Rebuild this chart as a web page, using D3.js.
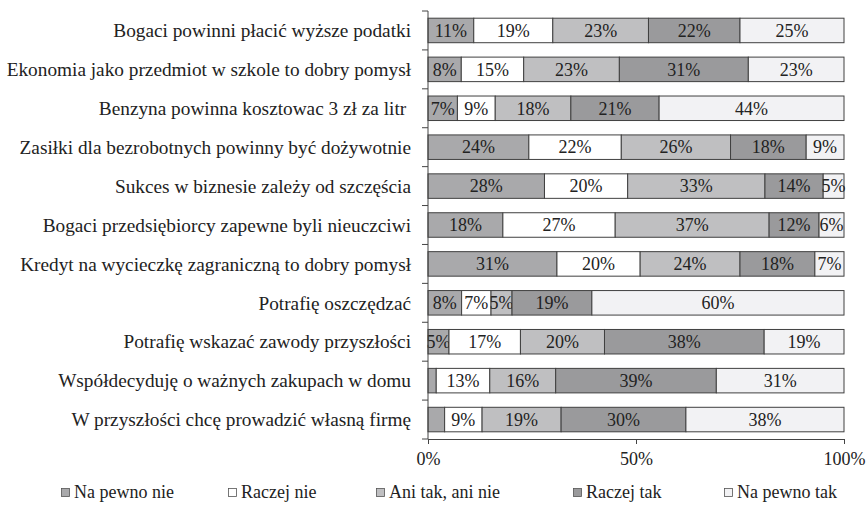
<!DOCTYPE html>
<html>
<head>
<meta charset="utf-8">
<script src="https://cdn.jsdelivr.net/npm/d3@7"></script>
<style>
  body { margin: 0; background: #fff; }
  text { font-family: "Liberation Serif", "Times New Roman", serif; fill: #222; }
</style>
</head>
<body>
<div id="chart"></div>
<script>
var w = 868;
var h = 505;

var categories = [
   "Bogaci powinni płacić wyższe podatki",
   "Ekonomia jako przedmiot w szkole to dobry pomysł",
   "Benzyna powinna kosztowac 3 zł za litr ",
   "Zasiłki dla bezrobotnych powinny być dożywotnie",
   "Sukces w biznesie zależy od szczęścia",
   "Bogaci przedsiębiorcy zapewne byli nieuczciwi",
   "Kredyt na wycieczkę zagraniczną to dobry pomysł",
   "Potrafię oszczędzać",
   "Potrafię wskazać zawody przyszłości",
   "Współdecyduję o ważnych zakupach w domu",
   "W przyszłości chcę prowadzić własną firmę"
];

var seriesNames = ["Na pewno nie", "Raczej nie", "Ani tak, ani nie", "Raczej tak", "Na pewno tak"];

// one array per answer, in category order
var naPewnoNie = [11, 8, 7, 24, 28, 18, 31, 8, 5, 2, 4];
var raczejNie  = [19, 15, 9, 22, 20, 27, 20, 7, 17, 13, 9];
var aniTakAni  = [23, 23, 18, 26, 33, 37, 24, 5, 20, 16, 19];
var raczejTak  = [22, 31, 21, 18, 14, 12, 18, 19, 38, 39, 30];
var naPewnoTak = [25, 23, 44, 9, 5, 6, 7, 60, 19, 31, 38];

// labels left off in the original for the thinnest first segments
var hiddenLabels = [[0, 9], [0, 10]];

var xTicks = [0, 0.5, 1];

var colors = ["#a9a9ab", "#ffffff", "#bfbfc1", "#9a9a9c", "#f2f2f4"];

var margin = {top: 11, left: 428, right: 24, bottom: 66};

var rows = categories.map(function(c, i) {
   return {
      cat: c,
      s0: naPewnoNie[i], s1: raczejNie[i], s2: aniTakAni[i],
      s3: raczejTak[i], s4: naPewnoTak[i]
   };
});
var keys = ["s0", "s1", "s2", "s3", "s4"];

var stacked = d3.stack().keys(keys).offset(d3.stackOffsetExpand)(rows);

var x = d3.scaleLinear().domain([0, 1]).range([margin.left, w - margin.right]);
var y = d3.scaleBand().domain(categories)
          .range([margin.top, h - margin.bottom])
          .paddingInner(0.37).paddingOuter(0.185);

var svg = d3.select("#chart").append("svg")
            .attr("width", w).attr("height", h);

var groups = svg.selectAll("g.series")
               .data(stacked)
               .enter().append("g")
               .attr("class", "series");

groups.selectAll("rect")
      .data(function(d) { return d.map(function(p) { return {p: p, key: d.key}; }); })
      .enter().append("rect")
      .attr("x", function(d) { return x(d.p[0]); })
      .attr("y", function(d) { return y(d.p.data.cat); })
      .attr("width", function(d) { return x(d.p[1]) - x(d.p[0]); })
      .attr("height", y.bandwidth())
      .attr("fill", function(d) { return colors[keys.indexOf(d.key)]; })
      .attr("stroke", "#404040")
      .attr("stroke-width", 1);

groups.each(function(d, si) {
   d3.select(this).selectAll("text")
     .data(d.map(function(p, ci) { return {p: p, ci: ci}; }).filter(function(e) {
        return !hiddenLabels.some(function(hl) { return hl[0] == si && hl[1] == e.ci; });
     }))
     .enter().append("text")
     .attr("x", function(e) { return (x(e.p[0]) + x(e.p[1])) / 2; })
     .attr("y", function(e) { return y(e.p.data.cat) + y.bandwidth() / 2; })
     .attr("dy", "0.35em")
     .attr("text-anchor", "middle")
     .style("font-size", "18px")
     .text(function(e) { return e.p.data[keys[si]] + "%"; });
});

// category axis, ticks between bands like the original
var step = y.step();
var catAxis = svg.append("g");
catAxis.append("line")
   .attr("x1", margin.left).attr("x2", margin.left)
   .attr("y1", margin.top).attr("y2", h - margin.bottom)
   .attr("stroke", "#444");
for (var i = 0; i <= categories.length; i++) {
   var ty = margin.top + i * step;
   catAxis.append("line")
      .attr("x1", margin.left - 6).attr("x2", margin.left)
      .attr("y1", ty).attr("y2", ty)
      .attr("stroke", "#444");
}
catAxis.selectAll("text.cat")
   .data(categories)
   .enter().append("text")
   .attr("class", "cat")
   .attr("x", margin.left - 17)
   .attr("y", function(d) { return y(d) + y.bandwidth() / 2; })
   .attr("dy", "0.35em")
   .attr("text-anchor", "end")
   .style("font-size", "19.3px")
   .style("white-space", "pre")
   .text(function(d) { return d; });

var xAxis = svg.append("g")
   .attr("transform", "translate(0," + (h - margin.bottom) + ")")
   .call(d3.axisBottom(x).tickValues(xTicks).tickFormat(d3.format(".0%")).tickSizeOuter(0).tickSize(5).tickPadding(8));
xAxis.select(".domain").attr("stroke", "#444");
xAxis.selectAll(".tick line").attr("stroke", "#444");
xAxis.selectAll("text").style("font-size", "18px").attr("fill", "#222")
   .style("font-family", "'Liberation Serif', serif");

// legend
var legendX = [61, 228, 376, 573, 724];
var legend = svg.selectAll("g.legend")
   .data(seriesNames)
   .enter().append("g")
   .attr("class", "legend")
   .attr("transform", function(d, i) { return "translate(" + legendX[i] + "," + 492 + ")"; });
legend.append("rect")
   .attr("x", 0.5).attr("y", -3.5).attr("width", 8).attr("height", 8)
   .attr("fill", function(d, i) { return colors[i]; })
   .attr("stroke", "#555")
   .attr("stroke-width", 0.8);
legend.append("text")
   .attr("x", 13).attr("dy", "0.35em")
   .style("font-size", "18px")
   .text(function(d) { return d; });
</script>
</body>
</html>
